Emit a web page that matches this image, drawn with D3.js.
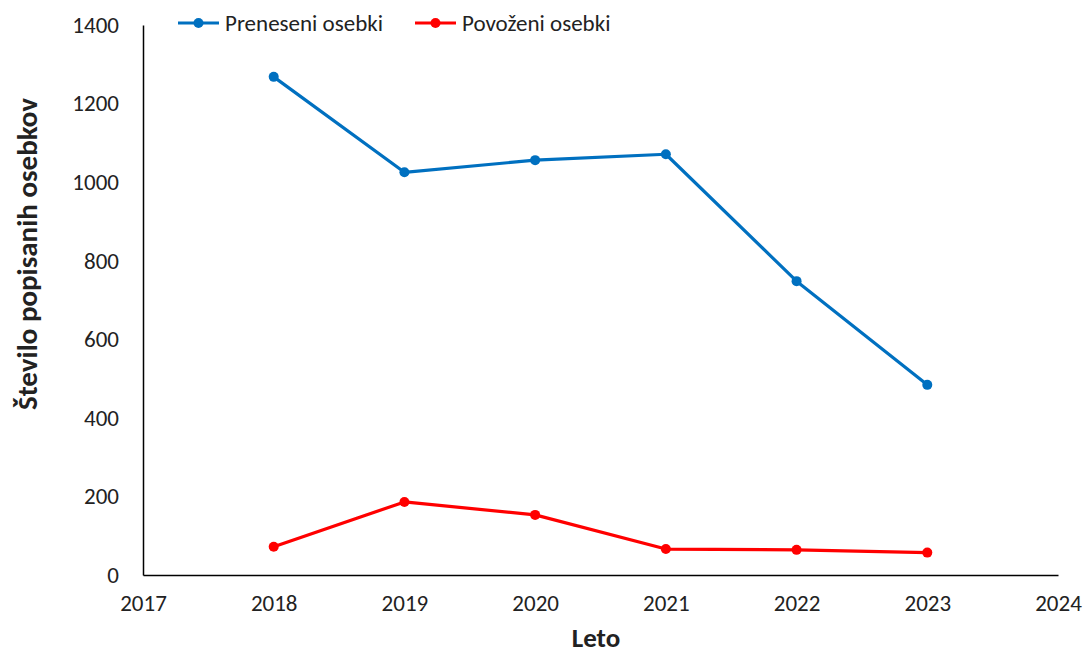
<!DOCTYPE html>
<html><head><meta charset="utf-8">
<script src="https://cdn.jsdelivr.net/npm/d3@7"></script>
<style>body{margin:0;background:#fff;} text{font-family:Carlito, Lato, "Open Sans", sans-serif;fill:#222;}</style>
</head><body>
<svg id="c" width="1085" height="655"></svg>
<script>
const years = [2018, 2019, 2020, 2021, 2022, 2023];
const preneseni = [1268, 1025, 1056, 1071, 748, 484];
const povozeni = [72, 186, 153, 66, 64, 57];
const xTicks = [2017, 2018, 2019, 2020, 2021, 2022, 2023, 2024];
const yTicks = [0, 200, 400, 600, 800, 1000, 1200, 1400];
const seriesNames = ["Preneseni osebki", "Povoženi osebki"];
const colors = ["#0070C0", "#FF0000"];

const svg = d3.select("#c");
const x = d3.scaleLinear().domain([2017, 2024]).range([143, 1058]);
const y = d3.scaleLinear().domain([0, 1400]).range([575, 25]);

// axes
const xAxis = svg.append("g").attr("transform", "translate(0,575)")
  .call(d3.axisBottom(x).tickValues(xTicks).tickFormat(d3.format("d")).tickSize(0).tickPadding(20));
xAxis.select(".domain").attr("stroke", "#000").attr("stroke-width", 1.5);
xAxis.selectAll("text").attr("font-size", 23).style("fill", "#222");

const yAxis = svg.append("g").attr("transform", "translate(143,0)")
  .call(d3.axisLeft(y).tickValues(yTicks).tickFormat(d3.format("d")).tickSize(0).tickPadding(24));
yAxis.select(".domain").attr("stroke", "#000").attr("stroke-width", 1.5);
yAxis.selectAll("text").attr("font-size", 23).style("fill", "#222");

// titles
svg.append("text").attr("x", 596).attr("y", 647).attr("text-anchor", "middle")
  .attr("font-size", 27).attr("font-weight", "bold").text("Leto");
svg.append("text").attr("transform", "translate(37,254) rotate(-90)").attr("text-anchor", "middle")
  .attr("font-size", 29).attr("font-weight", "bold").text("Število popisanih osebkov");

const data = [preneseni, povozeni];
const line = d3.line().x((d, i) => x(years[i])).y(d => y(d));
data.forEach((vals, k) => {
  svg.append("path").datum(vals).attr("d", line).attr("fill", "none")
    .attr("stroke", colors[k]).attr("stroke-width", 3.2).attr("stroke-linejoin", "round");
  svg.selectAll(null).data(vals).enter().append("circle")
    .attr("cx", (d, i) => x(years[i])).attr("cy", d => y(d)).attr("r", 5).attr("fill", colors[k]);
});

// legend
const legX = [178, 415];
seriesNames.forEach((n, k) => {
  const g = svg.append("g").attr("transform", `translate(${legX[k]},23)`);
  g.append("line").attr("x1", 0).attr("x2", 41).attr("y1", 0).attr("y2", 0)
    .attr("stroke", colors[k]).attr("stroke-width", 3.2);
  g.append("circle").attr("cx", 20.5).attr("cy", 0).attr("r", 5).attr("fill", colors[k]);
  g.append("text").attr("x", 47).attr("y", 8).attr("font-size", 23).text(n);
});
</script>
</body></html>
